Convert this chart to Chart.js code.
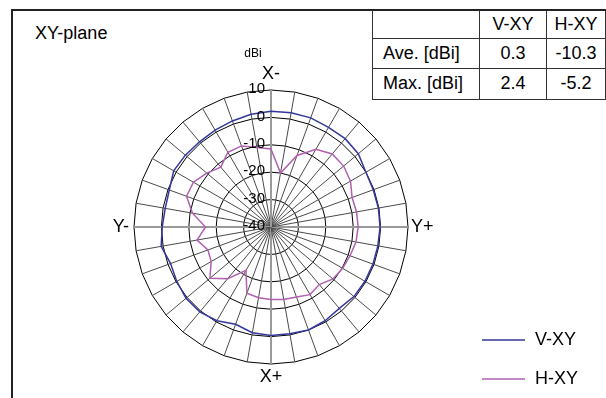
<!DOCTYPE html>
<html>
<head>
<meta charset="utf-8">
<title>XY-plane</title>
<script src="https://cdn.jsdelivr.net/npm/chart.js@4/dist/chart.umd.min.js"></script>
<style>
  html, body { margin: 0; padding: 0; background: #fff; }
  body { width: 606px; height: 398px; position: relative; overflow: hidden;
         font-family: "Liberation Sans", Arial, sans-serif; color: #000; }
  #frame { position: absolute; left: 11px; top: 9px; width: 700px; height: 500px;
           border-left: 2px solid #222; border-top: 2px solid #222; }
  #title { position: absolute; left: 35px; top: 23px; font-size: 18px; line-height: 20px; }
  #plot { position: absolute; left: 0; top: 0; }
  #stats { position: absolute; left: 372px; top: 9px; border-collapse: collapse;
           font-size: 18px; background: #fff; }
  #stats td { border: 1px solid #333; padding: 0; text-align: center; }
  #stats td.name { text-align: left; padding-left: 10px; }
  #stats tr:first-child td { border-top: 2px solid #222; }
</style>
</head>
<body>
<div id="frame"></div>
<div id="title">XY-plane</div>
<canvas id="plot" width="606" height="398"></canvas>
<table id="stats"></table>
<script>
// Azimuth of each sample, degrees clockwise from the X- direction
const angles = [0, 10, 20, 30, 40, 50, 60, 70, 80, 90, 100, 110, 120, 130, 140, 150, 160, 170,
                180, 190, 200, 210, 220, 230, 240, 250, 260, 270, 280, 290, 300, 310, 320, 330, 340, 350];
// Direction names at 0, 90, 180 and 270 degrees
const directionLabels = ['X-', 'Y+', 'X+', 'Y-'];

// Measured gain, dBi
const vxy = [2.2, 2.3, 2.4, 2.0, 2.1, 1.6, 0.0, -0.3, -0.2, -0.2, -0.4, -0.4, -0.4, -0.5, -1.2, -0.5, 0.0, -0.4,
             -0.4, -0.8, -2.2, -0.5, 0.4, 0.5, -0.3, -1.0, 0.7, -0.3, -0.8, -0.5, 1.0, 0.8, 0.6, 0.8, 1.2, 1.8];
const hxy = [-11.5, -20.0, -12.2, -7.2, -5.2, -5.4, -6.5, -8.5, -8.3, -8.2, -8.5, -9.3, -9.8, -10.5, -12.6, -11.5, -12.8, -13.1,
             -13.5, -13.8, -14.3, -21.7, -15.4, -10.9, -14.8, -15.5, -12.6, -16.1, -10.9, -7.2, -7.3, -9.4, -11.5, -8.5, -8.5, -10.5];

// Ring values and unit
const ringTicks = [10, 0, -10, -20, -30, -40];
const unitLabel = 'dBi';

// Summary table
const seriesNames = ['V-XY', 'H-XY'];
const statNames = ['Ave. [dBi]', 'Max. [dBi]'];
const vxyStats = [0.3, 2.4];
const hxyStats = [-10.3, -5.2];

const seriesColors = ['#34389a', '#b060b0'];

// build the summary table
(function () {
  const table = document.getElementById('stats');
  const colW = [103, 71, 60];
  const rowH = [28, 30, 31];
  const rows = [[''].concat(seriesNames)];
  statNames.forEach((n, i) => rows.push([n, vxyStats[i].toFixed(1), hxyStats[i].toFixed(1)]));
  rows.forEach((cells, r) => {
    const tr = document.createElement('tr');
    tr.style.height = rowH[r] + 'px';
    cells.forEach((c, k) => {
      const td = document.createElement('td');
      td.textContent = c;
      td.style.width = colW[k] + 'px';
      if (k === 0) td.className = 'name';
      tr.appendChild(td);
    });
    table.appendChild(tr);
  });
})();

const pointLabels = angles.map(a => (a % 90 === 0 ? directionLabels[a / 90] : ''));

const FONT = '"Liberation Sans", Arial, sans-serif';

const decorations = {
  id: 'decorations',
  afterDraw(chart) {
    const ctx = chart.ctx;
    const r = chart.scales.r;
    ctx.save();
    ctx.fillStyle = '#000';

    // ring values along the upper axis
    ctx.font = '15px ' + FONT;
    ctx.textAlign = 'right';
    ctx.textBaseline = 'middle';
    ringTicks.forEach(v => {
      const d = r.getDistanceFromCenterForValue(v);
      ctx.fillText(String(v), r.xCenter - 6, r.yCenter - d - 1);
    });

    // unit above the scale
    ctx.font = '12px ' + FONT;
    ctx.textAlign = 'center';
    ctx.fillText(unitLabel, r.xCenter - 18, r.yCenter - r.drawingArea - 36);

    // direction names
    ctx.font = '18px ' + FONT;
    const place = [
      {gap: 16, align: 'center'},
      {gap: 3, align: 'left'},
      {gap: 13, align: 'center'},
      {gap: 5, align: 'right'}
    ];
    pointLabels.forEach((lbl, i) => {
      if (!lbl) return;
      const p = place[directionLabels.indexOf(lbl)];
      const pos = r.getPointPosition(i, r.drawingArea + p.gap);
      ctx.textAlign = p.align;
      ctx.fillText(lbl, pos.x, pos.y);
    });

    // legend
    const legendY = [340, 379];
    chart.data.datasets.forEach((ds, i) => {
      ctx.strokeStyle = ds.borderColor;
      ctx.lineWidth = 1.5;
      ctx.beginPath();
      ctx.moveTo(482, legendY[i]);
      ctx.lineTo(525, legendY[i]);
      ctx.stroke();
      ctx.textAlign = 'left';
      ctx.fillText(ds.label, 535, legendY[i]);
    });
    ctx.restore();
  }
};

new Chart(document.getElementById('plot'), {
  type: 'radar',
  data: {
    labels: pointLabels,
    datasets: [
      { label: seriesNames[0], data: vxy, borderColor: seriesColors[0], borderWidth: 1.5,
        pointRadius: 0, fill: false, tension: 0 },
      { label: seriesNames[1], data: hxy, borderColor: seriesColors[1], borderWidth: 1.5,
        pointRadius: 0, fill: false, tension: 0 }
    ]
  },
  options: {
    responsive: false,
    animation: false,
    devicePixelRatio: 1,
    layout: { padding: { left: 134, right: 197, top: 90, bottom: 33 } },
    plugins: { legend: { display: false }, tooltip: { enabled: false } },
    scales: {
      r: {
        min: -40,
        max: 10,
        startAngle: 0,
        ticks: { stepSize: 10, display: false },
        pointLabels: { display: false },
        grid: { color: '#000', lineWidth: 1 },
        angleLines: {
          color: c => (c.index % 9 === 0 ? '#9a9a9a' : '#4a4a4a'),
          lineWidth: c => (c.index % 9 === 0 ? 2 : 1)
        }
      }
    }
  },
  plugins: [decorations]
});
</script>
</body>
</html>
